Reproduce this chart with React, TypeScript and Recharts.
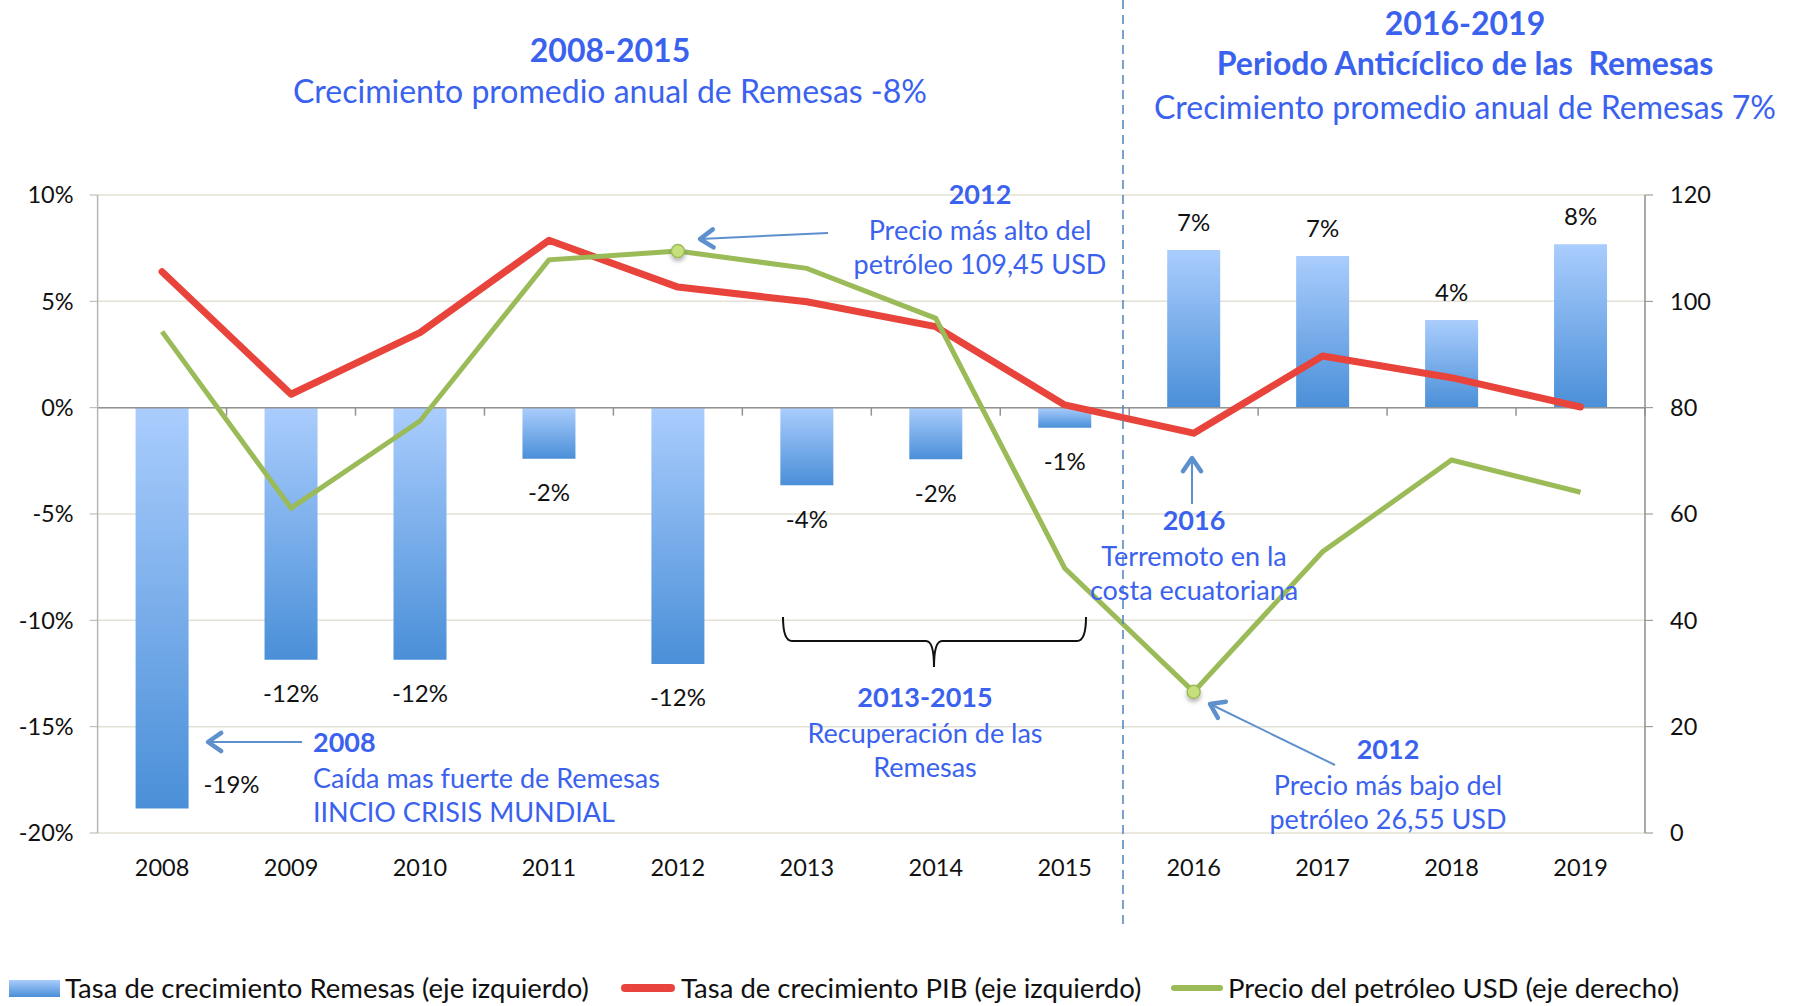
import {
  ComposedChart,
  Bar,
  Line,
  XAxis,
  YAxis,
  CartesianGrid,
  LabelList,
  ReferenceLine,
} from 'recharts';

const years = ['2008', '2009', '2010', '2011', '2012', '2013', '2014', '2015', '2016', '2017', '2018', '2019'];
const remesas = [-18.85, -11.85, -11.85, -2.4, -12.05, -3.65, -2.43, -0.94, 7.41, 7.13, 4.12, 7.69];
const pib = [6.39, 0.63, 3.53, 7.87, 5.67, 4.98, 3.81, 0.13, -1.2, 2.43, 1.41, 0.03];
const petroleo = [94.3, 61.1, 77.5, 107.8, 109.45, 106.2, 96.8, 49.8, 26.55, 52.9, 70.15, 64.1];
const leftTicks = [-20, -15, -10, -5, 0, 5, 10];
const rightTicks = [0, 20, 40, 60, 80, 100, 120];

const data = years.map((year, i) => ({
  year,
  remesas: remesas[i],
  pib: pib[i],
  petroleo: petroleo[i],
}));

const FONT = "Lato, 'Open Sans', sans-serif";
const BLUE = '#3a62ee';
const ARROW = '#5d90cc';

const BarLabel = (props: any) => {
  const { x, y, width, height, value, index } = props;
  const label = `${Math.round(value)}%`;
  const endY = value < 0 ? Math.max(y, y + height) : Math.min(y, y + height);
  if (index === 0) {
    return (
      <text x={x + width + 15} y={endY - 25} fontSize={24} fill="#111" fontFamily={FONT} dominantBaseline="central">
        {label}
      </text>
    );
  }
  const ly = value < 0 ? endY + 33 : endY - 29;
  return (
    <text x={x + width / 2} y={ly} fontSize={24} fill="#111" fontFamily={FONT} textAnchor="middle" dominantBaseline="central">
      {label}
    </text>
  );
};

// zero line with the small category ticks hanging below it
const ZeroLine = (props: any) => {
  const { x1, y1, x2, y2 } = props;
  const band = (x2 - x1) / years.length;
  return (
    <g stroke="#939393" strokeWidth={1.5}>
      <line x1={x1} y1={y1} x2={x2} y2={y2} />
      {years.map((_, k) => (
        <line key={k} x1={x1 + (k + 1) * band} y1={y1} x2={x1 + (k + 1) * band} y2={y1 + 8} />
      ))}
    </g>
  );
};

const OilDot = (props: any) => {
  const { cx, cy, index } = props;
  const hi = petroleo.indexOf(Math.max(...petroleo));
  const lo = petroleo.indexOf(Math.min(...petroleo));
  if (index !== hi && index !== lo) return <g key={`d${index}`} />;
  return (
    <circle key={`d${index}`} cx={cx} cy={cy} r={6.5} fill="#c6e07c" stroke="#9bbb59" strokeWidth={1.5} filter="url(#dotShadow)" />
  );
};

const Arrow = ({ x1, y1, x2, y2 }: { x1: number; y1: number; x2: number; y2: number }) => {
  const a = Math.atan2(y2 - y1, x2 - x1);
  const len = 16;
  const spread = 0.6;
  const p1 = [x2 - len * Math.cos(a - spread), y2 - len * Math.sin(a - spread)];
  const p2 = [x2 - len * Math.cos(a + spread), y2 - len * Math.sin(a + spread)];
  return (
    <g>
      <line x1={x1} y1={y1} x2={x2} y2={y2} stroke={ARROW} strokeWidth={2} />
      <polyline
        points={`${p1[0]},${p1[1]} ${x2},${y2} ${p2[0]},${p2[1]}`}
        fill="none"
        stroke={ARROW}
        strokeWidth={4.5}
        strokeLinecap="round"
        strokeLinejoin="round"
      />
    </g>
  );
};

const Note = ({ x, y, lines, anchor = 'middle' }: { x: number; y: number; lines: string[]; anchor?: string }) => (
  <g fontFamily={FONT} fill={BLUE} textAnchor={anchor as any}>
    {lines.map((t, i) => (
      <text
        key={t}
        x={x}
        y={y + [0, 36, 70][i]}
        fontSize={27}
        fontWeight={i === 0 ? 700 : 400}
        dominantBaseline="central"
      >
        {t}
      </text>
    ))}
  </g>
);

const Overlay = () => (
  <svg width={1800} height={1006} style={{ position: 'absolute', left: 0, top: 0, pointerEvents: 'none' }}>
    <line x1={1123} y1={0} x2={1123} y2={925} stroke="#4f81bd" strokeWidth={1.5} strokeDasharray="9 6" />

    <g fontFamily={FONT} fill={BLUE} textAnchor="middle">
      <text x={610} y={49} fontSize={32} fontWeight={700} dominantBaseline="central">2008-2015</text>
      <text x={610} y={90} fontSize={32} dominantBaseline="central">Crecimiento promedio anual de Remesas -8%</text>
      <text x={1465} y={22} fontSize={32} fontWeight={700} dominantBaseline="central">2016-2019</text>
      <text x={1465} y={62} fontSize={32} fontWeight={700} dominantBaseline="central" xmlSpace="preserve">Periodo Anticíclico de las  Remesas</text>
      <text x={1465} y={106} fontSize={32} dominantBaseline="central">Crecimiento promedio anual de Remesas 7%</text>
    </g>

    <Note x={980} y={193} lines={['2012', 'Precio más alto del', 'petróleo 109,45 USD']} />
    <Note x={1194} y={519} lines={['2016', 'Terremoto en la', 'costa ecuatoriana']} />
    <Note x={925} y={696} lines={['2013-2015', 'Recuperación de las', 'Remesas']} />
    <Note x={1388} y={748} lines={['2012', 'Precio más bajo del', 'petróleo 26,55 USD']} />
    <Note x={313} y={741} anchor="start" lines={['2008', 'Caída mas fuerte de Remesas', 'IINCIO CRISIS MUNDIAL']} />

    <Arrow x1={828} y1={233} x2={700} y2={239} />
    <Arrow x1={1192} y1={504} x2={1192} y2={458} />
    <Arrow x1={1335} y1={765} x2={1210} y2={704} />
    <Arrow x1={302} y1={742} x2={208} y2={742} />

    <path
      d="M783,617 Q783,641 792,641 L926,641 Q934,641 934,667 Q934,641 942,641 L1077,641 Q1086,641 1086,617"
      fill="none"
      stroke="#111"
      strokeWidth={2}
    />
  </svg>
);

const LegendRow = () => (
  <div style={{ position: 'absolute', left: 0, top: 972, width: 1800, height: 32, fontFamily: FONT, fontSize: 27.5, color: '#111' }}>
    <div style={{ position: 'absolute', left: 9, top: 8, width: 51, height: 17, background: 'linear-gradient(#a9ccfc, #4a8fd8)' }} />
    <div style={{ position: 'absolute', left: 65, top: 0, lineHeight: '32px', whiteSpace: 'nowrap' }}>
      Tasa de crecimiento Remesas (eje izquierdo)
    </div>
    <div style={{ position: 'absolute', left: 621, top: 12, width: 54, height: 8, borderRadius: 4, background: '#e8443c' }} />
    <div style={{ position: 'absolute', left: 681, top: 0, lineHeight: '32px', whiteSpace: 'nowrap' }}>
      Tasa de crecimiento PIB (eje izquierdo)
    </div>
    <div style={{ position: 'absolute', left: 1171, top: 13, width: 52, height: 6, borderRadius: 3, background: '#9bbb59' }} />
    <div style={{ position: 'absolute', left: 1228, top: 0, lineHeight: '32px', whiteSpace: 'nowrap' }}>
      Precio del petróleo USD (eje derecho)
    </div>
  </div>
);

export default function App() {
  return (
    <div style={{ position: 'absolute', left: 0, top: 0, width: 1800, height: 1006, background: '#fff', fontFamily: FONT }}>
      <ComposedChart width={1800} height={1006} data={data} margin={{ top: 195, right: 95, bottom: 113, left: 37.6 }}>
        <defs>
          <linearGradient id="barGrad" x1="0" y1="0" x2="0" y2="1">
            <stop offset="0%" stopColor="#aacdfd" />
            <stop offset="100%" stopColor="#4a8fd8" />
          </linearGradient>
          <filter id="dotShadow" x="-100%" y="-100%" width="300%" height="300%">
            <feDropShadow dx="0" dy="3" stdDeviation="2" floodColor="#000" floodOpacity="0.3" />
          </filter>
        </defs>
        <CartesianGrid yAxisId="left" vertical={false} stroke="#e4e0d3" strokeWidth={1.5} />
        <XAxis
          dataKey="year"
          axisLine={false}
          tickLine={false}
          tickSize={0}
          tickMargin={26}
          height={60}
          tick={{ fontSize: 23.5, fill: '#111', fontFamily: FONT }}
        />
        <YAxis
          yAxisId="left"
          domain={[-20, 10]}
          ticks={leftTicks}
          tickFormatter={(v: number) => `${v}%`}
          width={60}
          axisLine={{ stroke: '#b5b5b5', strokeWidth: 1.5 }}
          tickLine={{ stroke: '#b5b5b5' }}
          tickSize={8}
          tickMargin={16}
          tick={{ fontSize: 23.5, fill: '#111', fontFamily: FONT }}
        />
        <YAxis
          yAxisId="right"
          orientation="right"
          domain={[0, 120]}
          ticks={rightTicks}
          width={60}
          axisLine={{ stroke: '#8e8e8e', strokeWidth: 1.5 }}
          tickLine={{ stroke: '#8e8e8e' }}
          tickSize={8}
          tickMargin={17}
          tick={{ fontSize: 23.5, fill: '#111', fontFamily: FONT, textAnchor: 'start' }}
        />
        <ReferenceLine yAxisId="left" y={0} shape={ZeroLine} />
        <Bar yAxisId="left" dataKey="remesas" barSize={53} fill="url(#barGrad)" isAnimationActive={false}>
          <LabelList dataKey="remesas" content={BarLabel} />
        </Bar>
        <Line
          yAxisId="left"
          type="linear"
          dataKey="pib"
          stroke="#e8443c"
          strokeWidth={7}
          strokeLinecap="round"
          strokeLinejoin="round"
          dot={false}
          activeDot={false}
          isAnimationActive={false}
        />
        <Line
          yAxisId="right"
          type="linear"
          dataKey="petroleo"
          stroke="#9bbb59"
          strokeWidth={5}
          dot={OilDot}
          activeDot={false}
          isAnimationActive={false}
        />
      </ComposedChart>
      <Overlay />
      <LegendRow />
    </div>
  );
}
